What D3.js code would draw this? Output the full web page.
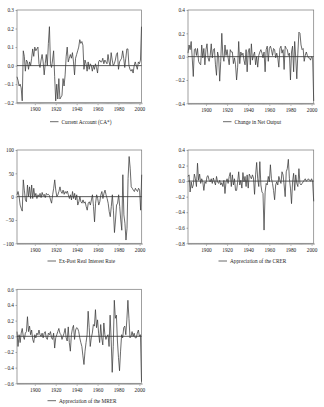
<!DOCTYPE html>
<html lang="en">
  <head>
    <meta charset="UTF-8" />
    <title>Five series</title>
    <style>
      body { margin: 0; background: #fff; }
      svg text { font-family: "Liberation Serif", "DejaVu Serif", serif; fill: #222; }
    </style>
  </head>
  <body>
    <div id="chart"></div>

    <script src="https://cdn.jsdelivr.net/npm/d3@7"></script>
    <script>

    // years on the x axis, one observation per year
    var years = d3.range(1883, 2003);
    var yearLabels = [1900, 1920, 1940, 1960, 1980, 2000];

    // series
    var currentAccount = [-0.06,-0.08,-0.11,-0.10,-0.12,-0.19,0.08,0.05,-0.03,0.03,
      0.02,-0.02,0.02,0.00,0.04,0.09,0.05,0.10,0.08,0.09,
      0.10,0.01,-0.01,0.03,0.06,0.02,-0.05,0.01,0.06,0.00,
      0.12,0.21,0.01,-0.01,0.03,0.08,-0.06,-0.19,-0.10,-0.18,
      -0.07,-0.18,-0.17,-0.16,-0.07,-0.11,-0.05,0.05,0.10,0.02,
      0.04,0.06,0.04,0.07,0.02,-0.05,0.04,0.06,0.08,0.10,
      0.14,0.12,0.13,0.11,-0.02,0.03,0.01,-0.03,0.02,-0.02,
      0.01,0.00,-0.03,0.00,-0.02,0.01,-0.01,-0.04,0.02,0.03,
      0.02,0.02,0.04,0.01,0.03,0.02,0.01,0.06,0.02,0.00,
      0.07,0.03,0.00,0.01,0.03,0.06,0.07,-0.02,0.02,0.03,
      0.04,0.08,0.04,-0.01,0.04,0.09,0.09,0.00,-0.02,-0.03,
      -0.02,-0.04,0.00,0.02,0.00,-0.02,0.02,0.01,0.03,0.21];

    var netOutput = [0.03,0.10,0.06,0.13,-0.01,-0.17,0.06,0.07,0.01,0.07,
      -0.04,-0.06,-0.07,0.10,-0.01,0.07,-0.07,0.06,0.11,-0.01,
      -0.04,0.01,0.11,-0.01,0.06,0.07,-0.07,-0.16,0.04,0.00,
      -0.21,-0.04,0.20,0.01,-0.04,0.10,0.01,0.06,-0.01,-0.07,
      0.06,0.04,0.04,-0.06,-0.01,-0.07,-0.20,-0.09,0.13,-0.06,
      0.04,0.01,0.03,-0.03,-0.07,0.06,-0.13,0.04,0.07,-0.07,
      0.11,-0.03,0.01,0.04,-0.07,0.00,-0.09,0.01,0.04,0.06,
      0.03,-0.01,0.04,-0.13,0.06,0.09,-0.04,0.07,0.09,0.06,
      0.01,0.07,0.06,-0.01,0.03,-0.01,-0.09,0.07,0.09,0.03,
      0.06,-0.11,0.09,0.07,0.06,0.01,0.03,-0.20,0.04,0.09,
      -0.13,0.13,-0.01,-0.19,0.03,0.21,0.20,0.10,0.06,0.07,
      -0.04,0.01,0.04,0.01,-0.01,-0.01,-0.03,0.00,-0.01,-0.38];

    var realRate = [4,11,0,-18,-25,-31,36,14,-7,-11,
      25,0,21,-4,25,-4,18,0,7,-4,
      4,0,7,-2,9,2,5,-2,7,4,
      5,2,-7,-14,4,18,36,14,0,4,
      11,21,11,7,14,5,11,7,12,4,
      -4,4,-7,11,-4,7,-7,4,-18,-11,
      0,-11,-14,-7,-14,-11,-21,-29,-14,-11,
      -18,-7,4,-21,-54,-14,4,-4,-18,-11,
      4,11,-4,7,14,4,-4,-14,-32,-43,
      -21,4,-29,-77,-50,-18,-14,4,-21,-50,
      -72,47,-39,-57,-93,-68,39,86,61,21,
      18,14,11,18,14,11,18,14,-29,47];

    var crer = [0.06,0.08,-0.14,-0.01,-0.09,-0.05,0.09,0.03,-0.07,0.23,
      0.01,0.09,-0.03,0.03,-0.01,-0.12,-0.01,-0.03,0.06,0.07,
      0.01,-0.01,0.03,-0.03,0.04,-0.01,-0.05,0.06,-0.01,-0.03,
      0.01,-0.05,-0.02,-0.07,0.01,-0.16,-0.01,0.03,-0.03,0.06,
      0.11,-0.07,0.08,-0.05,0.03,-0.12,-0.12,-0.01,0.12,-0.05,
      0.01,-0.09,0.11,-0.01,0.06,-0.07,0.08,-0.09,0.09,0.06,
      0.03,0.08,0.04,-0.17,0.08,0.24,0.03,-0.07,0.25,-0.05,
      -0.14,-0.16,-0.63,-0.14,-0.03,-0.05,0.06,-0.01,0.21,0.03,
      -0.03,-0.12,-0.24,-0.05,-0.01,-0.05,0.06,0.01,-0.03,0.12,
      0.08,-0.05,-0.20,0.12,0.16,0.28,0.03,-0.09,-0.29,-0.01,
      0.10,-0.12,0.08,-0.03,-0.07,0.16,-0.03,-0.05,-0.03,-0.01,
      0.01,0.03,0.00,0.01,0.03,0.01,0.00,0.03,-0.01,-0.26];

    var mrer = [0.06,-0.13,0.02,-0.08,0.04,0.10,0.00,-0.04,0.04,0.06,
      0.25,0.06,0.13,0.02,0.08,-0.04,-0.08,0.02,-0.02,0.04,
      0.02,0.08,0.02,0.00,0.04,-0.02,0.04,0.06,-0.02,-0.04,
      0.04,0.02,0.06,-0.02,-0.04,0.04,-0.15,-0.02,0.02,0.06,
      0.10,0.04,0.02,-0.04,0.00,0.04,0.10,-0.02,-0.06,0.12,
      -0.08,-0.19,0.02,0.10,0.14,-0.04,0.08,0.11,0.10,0.06,
      -0.02,-0.08,-0.13,-0.25,-0.36,-0.19,-0.08,0.02,0.32,0.11,
      -0.13,-0.02,0.04,0.15,0.13,0.34,0.11,0.21,0.04,-0.08,
      0.15,-0.02,-0.11,0.17,0.02,-0.04,0.00,0.02,-0.13,0.27,
      -0.04,-0.46,-0.13,0.46,0.23,0.27,-0.06,-0.27,-0.44,-0.19,
      0.02,-0.02,0.11,0.13,0.02,0.21,0.46,0.23,-0.02,0.00,
      0.06,0.00,0.04,-0.02,-0.02,0.04,0.08,0.00,0.02,-0.58];

    // y tick labels for each panel
    var caTicks = [0.3, 0.2, 0.1, 0.0, -0.1, -0.2];
    var noTicks = [0.4, 0.2, 0.0, -0.2, -0.4];
    var rrTicks = [100, 50, 0, -50, -100];
    var crerTicks = [0.4, 0.2, 0.0, -0.2, -0.4, -0.6, -0.8];
    var mrerTicks = [0.6, 0.4, 0.2, 0.0, -0.2, -0.4, -0.6];

    var w = 324;
    var h = 407;

    var svg = d3.select("#chart")
                .append("svg")
                .attr("width", w)
                .attr("height", h);

    var panels = [
      { values: currentAccount, name: "Current Account (CA*)", ticks: caTicks, fmt: d3.format(".1f"),
        x0: 17, x1: 141.5, y0: 10, y1: 102.7, lx: 50, ly: 121.7 },
      { values: netOutput, name: "Change in Net Output", ticks: noTicks, fmt: d3.format(".1f"),
        x0: 188, x1: 313.7, y0: 10, y1: 103.3, lx: 223, ly: 121.7 },
      { values: realRate, name: "Ex-Post Real Interest Rate", ticks: rrTicks, fmt: d3.format("d"),
        x0: 17, x1: 141.7, y0: 150, y1: 243.3, lx: 47.5, ly: 261 },
      { values: crer, name: "Appreciation of the CRER", ticks: crerTicks, fmt: d3.format(".1f"),
        x0: 188, x1: 313.7, y0: 150, y1: 243.3, lx: 218.5, ly: 261 },
      { values: mrer, name: "Appreciation of the MRER", ticks: mrerTicks, fmt: d3.format(".1f"),
        x0: 17, x1: 141.5, y0: 289.3, y1: 383.3, lx: 47.5, ly: 400.7 }
    ];

    panels.forEach(function(p) {
      var g = svg.append("g");

      var xScale = d3.scaleLinear()
                     .domain([years[0], years[years.length - 1]])
                     .range([p.x0, p.x1]);

      var yScale = d3.scaleLinear()
                     .domain([d3.min(p.ticks), d3.max(p.ticks)])
                     .range([p.y1, p.y0]);

      // y axis
      var yAxis = d3.axisLeft(yScale)
                    .tickValues(p.ticks)
                    .tickSize(1.5)
                    .tickPadding(1.5)
                    .tickFormat(p.fmt);
      g.append("g")
       .attr("transform", "translate(" + p.x0 + ",0)")
       .call(yAxis);

      // x axis, a tick every year, labels every 20
      var xAxis = d3.axisBottom(xScale)
                    .tickValues(years)
                    .tickSize(1.5)
                    .tickPadding(3)
                    .tickFormat(function(d) { return yearLabels.indexOf(d) >= 0 ? d : ""; });
      var xg = g.append("g")
                .attr("transform", "translate(0," + p.y1 + ")")
                .call(xAxis);
      xg.selectAll(".tick")
        .filter(function(d) { return yearLabels.indexOf(d) >= 0; })
        .select("line")
        .attr("y2", 2.5);

      g.selectAll(".domain").remove();
      g.selectAll(".tick line").attr("stroke", "#555").attr("stroke-width", 0.5);
      g.selectAll(".tick text").style("font-size", "5.3px").attr("fill", "#333");

      // frame
      g.append("rect")
       .attr("x", p.x0)
       .attr("y", p.y0)
       .attr("width", p.x1 - p.x0)
       .attr("height", p.y1 - p.y0)
       .attr("fill", "none")
       .attr("stroke", "#777")
       .attr("stroke-width", 0.7);

      // zero line
      g.append("line")
       .attr("x1", p.x0)
       .attr("x2", p.x1)
       .attr("y1", yScale(0))
       .attr("y2", yScale(0))
       .attr("stroke", "#111")
       .attr("stroke-width", 0.7);

      var line = d3.line()
                   .x(function(d, i) { return xScale(years[i]); })
                   .y(function(d) { return yScale(d); });

      g.append("path")
       .datum(p.values)
       .attr("fill", "none")
       .attr("stroke", "#3a3a3a")
       .attr("stroke-width", 0.75)
       .attr("d", line);

      // legend
      g.append("line")
       .attr("x1", p.lx)
       .attr("x2", p.lx + 8.5)
       .attr("y1", p.ly)
       .attr("y2", p.ly)
       .attr("stroke", "#3a3a3a")
       .attr("stroke-width", 0.75);

      g.append("text")
       .attr("x", p.lx + 11.5)
       .attr("y", p.ly + 1.8)
       .style("font-size", "5.3px")
       .text(p.name);
    });

    </script>
  </body>
</html>
